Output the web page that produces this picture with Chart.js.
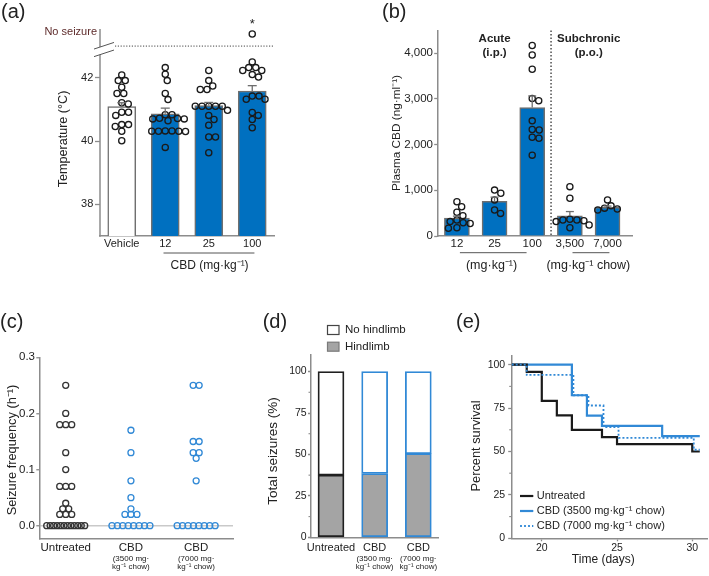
<!DOCTYPE html>
<html>
<head>
<meta charset="utf-8">
<title>CBD figure</title>
<script src="https://cdn.jsdelivr.net/npm/chart.js@4/dist/chart.umd.min.js"></script>
<style>
html, body { margin: 0; padding: 0; background: #ffffff; }
#fig { position: relative; width: 709px; height: 576px; overflow: hidden; background: #ffffff; }
#fig canvas { position: absolute; left: 0; top: 0; }
</style>
</head>
<body>
<div id="fig">
<canvas id="chartA" width="709" height="576"></canvas>
<canvas id="chartB" width="709" height="576"></canvas>
<canvas id="chartC" width="709" height="576"></canvas>
<canvas id="chartD" width="709" height="576"></canvas>
<canvas id="chartE" width="709" height="576"></canvas>
</div>
<script>
// ================= DATA =================
// (a) body temperature at seizure onset
const aCategories = ['Vehicle', '12', '25', '100'];
const aMeans = [41.09, 40.86, 41.12, 41.58];
const aSEM = [0.12, 0.18, 0.10, 0.17];
const aVehicle = [42.09, 41.91, 41.91, 41.70, 41.50, 41.50, 41.21, 41.17, 40.91, 40.91, 40.81, 40.52, 40.52, 40.46, 40.31, 40.01];
const a12 = [42.32, 42.11, 41.91, 41.50, 41.31, 40.83, 40.83, 40.72, 40.71, 40.70, 40.70, 40.64, 40.32, 40.32, 40.31, 40.31, 40.31, 40.30, 39.80];
const a25 = [42.23, 41.91, 41.74, 41.63, 41.63, 41.10, 41.10, 41.10, 41.10, 41.10, 40.97, 40.81, 40.68, 40.50, 40.13, 40.13, 39.63];
const a100 = [42.50, 42.32, 42.32, 42.23, 42.23, 42.10, 42.02, 41.42, 41.42, 41.32, 41.32, 40.90, 40.81, 40.68, 40.42];
const aNoSeizure = [0, 0, 0, 1];
const aSignificance = ['', '', '', '*'];
const aYTicks = [38, 40, 42];
const aYTitle = 'Temperature (°C)';
const aXTitle = 'CBD (mg·kg⁻¹)';

// (b) plasma CBD
const bCategories = ['12', '25', '100', '3,500', '7,000'];
const bMeans = [390, 760, 2810, 440, 630];
const bSEM = [45, 90, 255, 95, 25];
const b12 = [750, 640, 520, 445, 350, 315, 290, 275, 180, 170];
const b25 = [1005, 935, 790, 570, 495];
const b100 = [4170, 3960, 3650, 3010, 2960, 2520, 2330, 2320, 2160, 2140, 1770];
const b3500 = [1080, 825, 365, 350, 350, 335, 315, 240, 180];
const b7000 = [790, 660, 610, 590, 570];
const bYTicks = [0, 1000, 2000, 3000, 4000];
const bRegimes = [['Acute', '(i.p.)'], ['Subchronic', '(p.o.)']];
const bUnits = ['(mg·kg⁻¹)', '(mg·kg⁻¹ chow)'];
const bYTitle = 'Plasma CBD (ng·ml⁻¹)';

// (c) seizure frequency
const cCategories = ['Untreated', 'CBD', 'CBD'];
const cSubLabels = [[], ['(3500 mg·', 'kg⁻¹ chow)'], ['(7000 mg·', 'kg⁻¹ chow)']];
const cUntreated = [0.25, 0.20, 0.18, 0.18, 0.18, 0.13, 0.10, 0.07, 0.07, 0.07, 0.04, 0.03, 0.03, 0.02, 0.02, 0.02, 0, 0, 0, 0, 0, 0, 0, 0, 0, 0, 0, 0];
const cCBD3500 = [0.17, 0.13, 0.08, 0.05, 0.03, 0.02, 0.02, 0.02, 0, 0, 0, 0, 0, 0, 0, 0];
const cCBD7000 = [0.25, 0.25, 0.15, 0.15, 0.13, 0.13, 0.12, 0.08, 0, 0, 0, 0, 0, 0, 0, 0];
const cYTicks = [0, 0.1, 0.2, 0.3];
const cYTitle = 'Seizure frequency (h⁻¹)';

// (d) seizure types
const dCategories = ['Untreated', 'CBD', 'CBD'];
const dSubLabels = [[], ['(3500 mg·', 'kg⁻¹ chow)'], ['(7000 mg·', 'kg⁻¹ chow)']];
const dHindlimb = [37.5, 38.5, 50.5];
const dNoHindlimb = [62.5, 61.5, 49.5];
const dYTicks = [0, 25, 50, 75, 100];
const dYTitle = 'Total seizures (%)';

// (e) survival
const eUntreatedDays = [18, 19, 20, 21, 22, 24, 25, 30, 30.5];
const eUntreatedSurvival = [100, 95.8, 79.2, 70.8, 62.5, 58.3, 54.2, 50.0, 50.0];
const e3500Days = [18, 22, 23, 24, 28, 30.5];
const e3500Survival = [100, 82.4, 70.6, 64.7, 58.8, 58.8];
const e7000Days = [18, 19, 22.1, 23.1, 24.1, 25.1, 30.1, 30.5];
const e7000Survival = [100, 94.1, 82.4, 76.5, 64.1, 57.8, 51.0, 51.0];
const eXTicks = [20, 25, 30];
const eYTicks = [0, 25, 50, 75, 100];
const eXTitle = 'Time (days)';
const eYTitle = 'Percent survival';

// ================= STYLE / LAYOUT =================
const FONT = '"Liberation Sans", Arial, Helvetica, sans-serif';
const INK = '#222222';
const AXIS = '#8c8c8c';
const BAR_BLUE = '#0070c0';
const BAR_EDGE = '#6f6f6f';
const LIGHT_BLUE = '#3189d6';
const GRAY_FILL = '#a4a4a4';
Chart.defaults.font.family = FONT;

const CW = 709, CH = 576, AXH = 30;
function pad(L, T, R, B, axw) { return { left: L - axw, top: T, right: CW - R, bottom: CH - B - AXH }; }
const fixW = w => (s => { s.width = w; });
const fixH = s => { s.height = AXH; };
function f(size, weight) { return (weight ? weight + ' ' : '') + size + 'px ' + FONT; }
function seg(ctx, x1, y1, x2, y2, color, w, dash) {
  ctx.save(); ctx.beginPath(); ctx.strokeStyle = color; ctx.lineWidth = w; ctx.setLineDash(dash || []);
  ctx.moveTo(x1, y1); ctx.lineTo(x2, y2); ctx.stroke(); ctx.restore();
}
function text(ctx, s, x, y, font, color, align, rot, base) {
  ctx.save(); ctx.translate(x, y); if (rot) ctx.rotate(rot);
  ctx.font = font; ctx.fillStyle = color; ctx.textAlign = align || 'center'; ctx.textBaseline = base || 'middle';
  ctx.fillText(s, 0, 0); ctx.restore();
}
function tag(ctx, s, x, y) { text(ctx, s, x, y, f(20), INK, 'left', 0, 'alphabetic'); }
function baseOptions(padding) {
  return { responsive: false, animation: false, events: [], layout: { padding },
    plugins: { legend: { display: false }, tooltip: { enabled: false }, title: { display: false } } };
}
function catAxis(cats, min, max, size, padding) {
  return { type: 'linear', min, max, offset: false, afterFit: fixH,
    afterBuildTicks: s => { s.ticks = cats.map((c, i) => ({ value: i })); },
    ticks: { callback: v => cats[v], font: { family: FONT, size }, color: INK, padding, maxRotation: 0, minRotation: 0, autoSkip: false },
    grid: { display: false, drawTicks: false }, border: { display: true, color: AXIS, width: 1.5 } };
}
function valAxis(min, max, ticks, fmt, size, tickLen, padding, borderOn, axw) {
  return { type: 'linear', min, max, afterFit: fixW(axw),
    afterBuildTicks: s => { s.ticks = ticks.map(v => ({ value: v })); },
    ticks: { callback: fmt, font: { family: FONT, size }, color: INK, padding, autoSkip: false },
    grid: { drawOnChartArea: false, drawTicks: true, tickLength: tickLen, tickColor: AXIS, tickWidth: 1.3 },
    border: { display: borderOn, color: AXIS, width: 1.5 } };
}
function dots(color, r) {
  return { type: 'scatter', data: [], pointRadius: r, pointHoverRadius: r, pointBorderWidth: 1.3,
    pointBorderColor: color, pointBackgroundColor: 'rgba(0,0,0,0)', borderColor: color,
    backgroundColor: 'rgba(0,0,0,0)', order: 1 };
}
function swarmPoints(values, center, xs, ys, diam) {
  const unit = Math.abs(xs.getPixelForValue(center + 1) - xs.getPixelForValue(center));
  const idx = values.map((v, i) => i).sort((p, q) => values[q] - values[p]);
  const placed = [], out = [];
  for (const i of idx) {
    const py = ys.getPixelForValue(values[i]);
    let off = 0;
    for (let k = 0; k < 2000; k++) {
      const cand = (k % 2 ? 1 : -1) * Math.ceil(k / 2) * 0.25;
      if (placed.every(p => (p.x - cand) ** 2 + (p.y - py) ** 2 >= diam * diam)) { off = cand; break; }
    }
    placed.push({ x: off, y: py });
    out.push({ x: center + off / unit, y: values[i] });
  }
  return out;
}
function rowPoints(values, center, xs, spacing, maxWidth) {
  const unit = Math.abs(xs.getPixelForValue(center + 1) - xs.getPixelForValue(center));
  const counts = new Map();
  values.forEach(v => counts.set(v, (counts.get(v) || 0) + 1));
  const out = [];
  counts.forEach((n, v) => {
    const s = n > 1 ? Math.min(spacing, maxWidth / (n - 1)) : 0;
    for (let j = 0; j < n; j++) out.push({ x: center + ((j - (n - 1) / 2) * s) / unit, y: v });
  });
  return out;
}
function minorTicksY(chart, values, len) {
  const { ctx, chartArea: ca, scales: { y } } = chart;
  values.forEach(v => seg(ctx, ca.left - len, y.getPixelForValue(v), ca.left, y.getPixelForValue(v), AXIS, 1.1));
}
function subLabels(chart, lines, dy1, dy2) {
  const { ctx, chartArea: ca, scales: { x } } = chart;
  lines.forEach((ls, i) => {
    if (!ls.length) return;
    text(ctx, ls[0], x.getPixelForValue(i), ca.bottom + dy1, f(8), INK);
    text(ctx, ls[1], x.getPixelForValue(i), ca.bottom + dy2, f(8), INK);
  });
}

// ================= PANEL A =================
const A_BREAK_LO = 42.73, A_BREAK_HI = 42.97, A_DOTTED = 43.0, A_NOSZ_Y = 43.38;
const aDeco = {
  id: 'aDeco',
  afterDraw(chart) {
    const { ctx, chartArea: ca, scales: { x, y } } = chart;
    const X0 = ca.left;
    const yLo = y.getPixelForValue(A_BREAK_LO), yHi = y.getPixelForValue(A_BREAK_HI);
    seg(ctx, X0, ca.bottom + 0.75, X0, yLo, AXIS, 1.5);
    seg(ctx, X0, yHi, X0, ca.top, AXIS, 1.5);
    [yHi, yLo].forEach(yy => seg(ctx, X0 - 6, yy + 2, X0 + 14, yy - 4.6, '#555', 1));
    const yd = y.getPixelForValue(A_DOTTED);
    seg(ctx, X0 + 15, yd, ca.right, yd, '#444', 1, [1.2, 1.6]);
    text(ctx, 'No seizure', X0 - 3, ca.top + 2.5, f(11), '#5e2b2b', 'right');
    aMeans.forEach((m, i) => {
      const cx = x.getPixelForValue(i), y0 = y.getPixelForValue(m), y1 = y.getPixelForValue(m + aSEM[i]);
      seg(ctx, cx, y0, cx, y1, '#6e6e6e', 1.3);
      seg(ctx, cx - 4.5, y1, cx + 4.5, y1, '#6e6e6e', 1.3);
      if (aSignificance[i]) text(ctx, aSignificance[i], cx, ca.top - 1, f(13), INK, 'center', 0, 'alphabetic');
    });
    seg(ctx, x.getPixelForValue(0.96), ca.bottom + 17, x.getPixelForValue(3.05), ca.bottom + 17, '#555', 1);
    text(ctx, aXTitle, x.getPixelForValue(2.02), ca.bottom + 29.5, f(12), INK);
    text(ctx, aYTitle, 63.3, 139, f(12.6), INK, 'center', -Math.PI / 2);
    tag(ctx, '(a)', 1, 18);
  }
};
const aOpts = baseOptions(pad(100, 29, 274, 236, 40));
aOpts.scales = {
  x: catAxis(aCategories, -0.5, 3.5, 11, 1.2),
  y: valAxis(37, 43.54, aYTicks, v => String(v), 11, 5, 1.7, false, 40)
};
const chartA = new Chart(document.getElementById('chartA'), {
  type: 'bar',
  data: { datasets: [
    dots('#1a1a1a', 3.1), dots('#1a1a1a', 3.1), dots('#1a1a1a', 3.1), dots('#1a1a1a', 3.1), dots('#1a1a1a', 3.1),
    { type: 'bar', data: aMeans.map((v, i) => ({ x: i, y: v })),
      backgroundColor: aCategories.map((c, i) => i === 0 ? '#ffffff' : BAR_BLUE),
      borderColor: BAR_EDGE, borderWidth: 1.5, barThickness: 28, clip: 0, order: 2 }
  ] },
  options: aOpts,
  plugins: [aDeco]
});
[aVehicle, a12, a25, a100].forEach((g, i) => {
  chartA.data.datasets[i].data = swarmPoints(g, i, chartA.scales.x, chartA.scales.y, 6.6);
});
chartA.data.datasets[4].data = aNoSeizure.flatMap((n, i) => swarmPoints(Array(n).fill(A_NOSZ_Y), i, chartA.scales.x, chartA.scales.y, 6.6));
chartA.update('none');

// ================= PANEL B =================
const bDeco = {
  id: 'bDeco',
  afterDraw(chart) {
    const { ctx, chartArea: ca, scales: { x, y } } = chart;
    bMeans.forEach((m, i) => {
      const cx = x.getPixelForValue(i), y0 = y.getPixelForValue(m), y1 = y.getPixelForValue(m + bSEM[i]);
      seg(ctx, cx, y0, cx, y1, '#6e6e6e', 1.3);
      seg(ctx, cx - 4, y1, cx + 4, y1, '#6e6e6e', 1.3);
    });
    const xs = x.getPixelForValue(2.5);
    seg(ctx, xs, ca.top, xs, ca.bottom, '#333', 1.3, [1.5, 2]);
    [[1, bRegimes[0]], [3.5, bRegimes[1]]].forEach(([pos, lines]) => {
      text(ctx, lines[0], x.getPixelForValue(pos), 39, f(11.5, 'bold'), INK);
      text(ctx, lines[1], x.getPixelForValue(pos), 53, f(11.5, 'bold'), INK);
    });
    seg(ctx, x.getPixelForValue(0.08), ca.bottom + 16.7, x.getPixelForValue(1.85), ca.bottom + 16.7, '#555', 1);
    text(ctx, bUnits[0], x.getPixelForValue(0.92), ca.bottom + 29.5, f(12.5), INK);
    seg(ctx, x.getPixelForValue(3.07), ca.bottom + 16.7, x.getPixelForValue(4.05), ca.bottom + 16.7, '#555', 1);
    text(ctx, bUnits[1], x.getPixelForValue(3.49), ca.bottom + 29.5, f(12.5), INK);
    text(ctx, bYTitle, 396.7, 133, f(11.8), INK, 'center', -Math.PI / 2);
    tag(ctx, '(b)', 382, 18);
  }
};
const bOpts = baseOptions(pad(437.7, 30.4, 632, 236, 50));
bOpts.scales = {
  x: catAxis(bCategories, -0.51, 4.65, 11.5, 0.7),
  y: valAxis(0, 4500, bYTicks, v => v.toLocaleString('en-US'), 11.5, 3.5, 1.2, true, 50)
};
const chartB = new Chart(document.getElementById('chartB'), {
  type: 'bar',
  data: { datasets: [
    dots('#1a1a1a', 3.1), dots('#1a1a1a', 3.1), dots('#1a1a1a', 3.1), dots('#1a1a1a', 3.1), dots('#1a1a1a', 3.1),
    { type: 'bar', data: bMeans.map((v, i) => ({ x: i, y: v })), backgroundColor: BAR_BLUE,
      borderColor: BAR_EDGE, borderWidth: 1.5, barThickness: 25, clip: 0, order: 2 }
  ] },
  options: bOpts,
  plugins: [bDeco]
});
[b12, b25, b100, b3500, b7000].forEach((g, i) => {
  chartB.data.datasets[i].data = swarmPoints(g, i, chartB.scales.x, chartB.scales.y, 6.8);
});
chartB.update('none');

// ================= PANEL C =================
const cDeco = {
  id: 'cDeco',
  afterDraw(chart) {
    const { ctx } = chart;
    subLabels(chart, cSubLabels, 19.3, 27.7);
    text(ctx, cYTitle, 12.5, 450, f(12.8), INK, 'center', -Math.PI / 2);
    tag(ctx, '(c)', 0, 327.6);
  }
};
const cOpts = baseOptions(pad(39.3, 357.3, 233, 539, 36));
const cY = valAxis(-0.0237, 0.3, cYTicks, v => v.toFixed(1), 11.5, 3, 1.3, true, 36);
cY.grid.drawOnChartArea = true;
cY.grid.color = c => (c.tick && c.tick.value === 0) ? '#c9c9c9' : 'rgba(0,0,0,0)';
cY.grid.lineWidth = 1.5;
cOpts.scales = { x: catAxis(cCategories, -0.405, 2.565, 11.5, 2.4), y: cY };
const chartC = new Chart(document.getElementById('chartC'), {
  type: 'scatter',
  data: { datasets: [dots('#333333', 3.0), dots(LIGHT_BLUE, 3.0), dots(LIGHT_BLUE, 3.0)] },
  options: cOpts,
  plugins: [cDeco]
});
[cUntreated, cCBD3500, cCBD7000].forEach((g, i) => {
  chartC.data.datasets[i].data = rowPoints(g, i, chartC.scales.x, 6, 38);
});
chartC.update('none');

// ================= PANEL D =================
const dDeco = {
  id: 'dDeco',
  afterDraw(chart) {
    const { ctx, chartArea: ca } = chart;
    minorTicksY(chart, dYTicks.slice(0, -1).map((v, i) => (v + dYTicks[i + 1]) / 2), 2.5);
    subLabels(chart, dSubLabels, 21, 29.4);
    const items = [chart.data.datasets[1], chart.data.datasets[0]];
    items.forEach((ds, k) => {
      const yy = ca.top - 25 + k * 16.7;
      ctx.save();
      ctx.fillStyle = ds.legendFill; ctx.strokeStyle = ds.legendEdge; ctx.lineWidth = 1.2;
      ctx.fillRect(ca.left + 16.5, yy - 4.5, 11.5, 9); ctx.strokeRect(ca.left + 16.5, yy - 4.5, 11.5, 9);
      ctx.restore();
      text(ctx, ds.label, ca.left + 34, yy, f(11.5), INK, 'left');
    });
    text(ctx, dYTitle, 273.3, 451, f(13.5), INK, 'center', -Math.PI / 2);
    tag(ctx, '(d)', 262.7, 327.6);
  }
};
const dOpts = baseOptions(pad(311, 355, 438.3, 537.3, 40));
const dX = catAxis(dCategories, -0.458, 2.458, 11, 4.1); dX.stacked = true;
const dY = valAxis(0, 110, dYTicks, v => String(v), 10.5, 3, 1.3, true, 40); dY.stacked = true;
dOpts.scales = { x: dX, y: dY };
const dEdges = ['#1f1f1f', LIGHT_BLUE, LIGHT_BLUE];
const chartD = new Chart(document.getElementById('chartD'), {
  type: 'bar',
  data: { datasets: [
    { label: 'Hindlimb', data: dHindlimb.map((v, i) => ({ x: i, y: v })), backgroundColor: GRAY_FILL,
      borderColor: dEdges, borderWidth: 1.8, borderSkipped: false, barThickness: 26, clip: 0,
      legendFill: GRAY_FILL, legendEdge: '#7a7a7a' },
    { label: 'No hindlimb', data: dNoHindlimb.map((v, i) => ({ x: i, y: v })), backgroundColor: '#ffffff',
      borderColor: dEdges, borderWidth: 1.8, borderSkipped: false, barThickness: 26, clip: 0,
      legendFill: '#ffffff', legendEdge: '#444444' }
  ] },
  options: dOpts,
  plugins: [dDeco]
});

// ================= PANEL E =================
const eLegendOrder = [1, 2, 0];
const eDeco = {
  id: 'eDeco',
  afterDraw(chart) {
    const { ctx, chartArea: ca } = chart;
    minorTicksY(chart, eYTicks.slice(0, -1).map((v, i) => (v + eYTicks[i + 1]) / 2), 2.5);
    eLegendOrder.forEach((di, k) => {
      const ds = chart.data.datasets[di];
      const yy = ca.bottom - 42.3 + k * 15;
      seg(ctx, ca.left + 8.3, yy, ca.left + 21.6, yy, ds.borderColor, ds.borderWidth, ds.borderDash);
      text(ctx, ds.label, ca.left + 25, yy, f(11), INK, 'left');
    });
    text(ctx, eXTitle, 603.3, 560, f(12), INK);
    text(ctx, eYTitle, 476.7, 446, f(12.8), INK, 'center', -Math.PI / 2);
    tag(ctx, '(e)', 456, 327.6);
  }
};
const eOpts = baseOptions(pad(511.7, 356, 707.3, 538.3, 40));
const eX = valAxis(18, 31, eXTicks, v => String(v), 10.5, 3, 0.7, true, 40);
eX.afterFit = fixH;
eOpts.scales = { x: eX, y: valAxis(0, 105, eYTicks, v => String(v), 10.5, 3.5, 3, true, 40) };
const chartE = new Chart(document.getElementById('chartE'), {
  type: 'line',
  data: { datasets: [
    { label: 'CBD (7000 mg·kg⁻¹ chow)', data: e7000Days.map((d, i) => ({ x: d, y: e7000Survival[i] })),
      borderColor: LIGHT_BLUE, borderWidth: 1.8, borderDash: [2, 2], stepped: 'before', pointRadius: 0, fill: false },
    { label: 'Untreated', data: eUntreatedDays.map((d, i) => ({ x: d, y: eUntreatedSurvival[i] })),
      borderColor: '#1a1a1a', borderWidth: 2.2, stepped: 'before', pointRadius: 0, fill: false },
    { label: 'CBD (3500 mg·kg⁻¹ chow)', data: e3500Days.map((d, i) => ({ x: d, y: e3500Survival[i] })),
      borderColor: LIGHT_BLUE, borderWidth: 2.2, stepped: 'before', pointRadius: 0, fill: false }
  ] },
  options: eOpts,
  plugins: [eDeco]
});
</script>
</body>
</html>
